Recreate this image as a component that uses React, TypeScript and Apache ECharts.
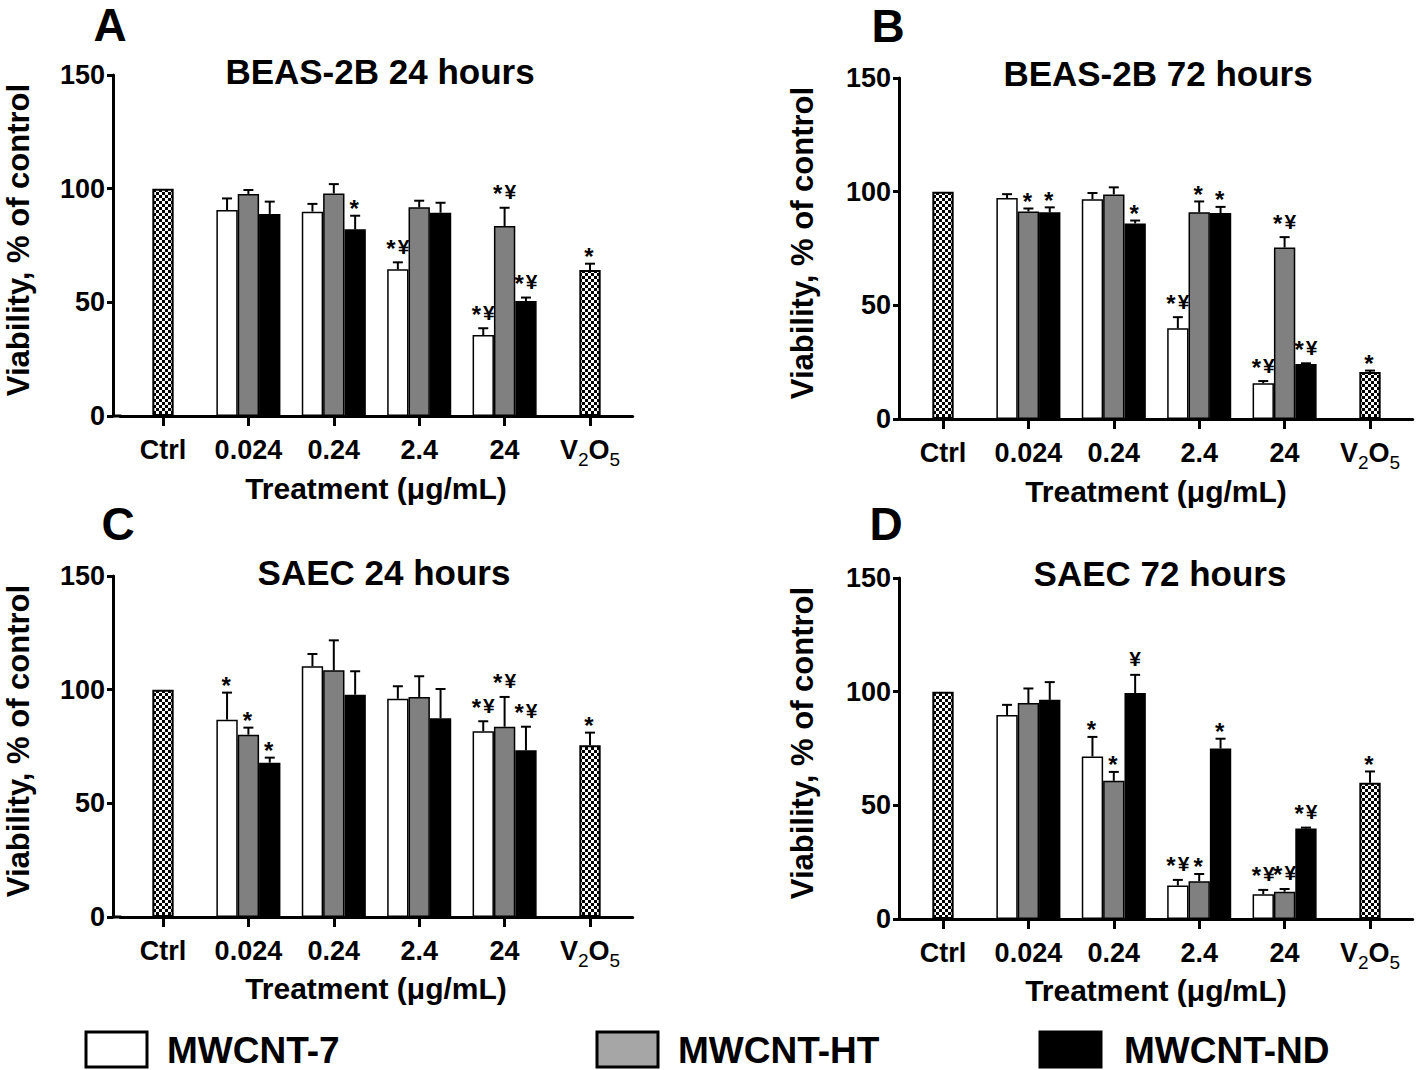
import React, { useEffect, useRef } from 'react';
import * as echarts from 'echarts';

// ---------- data ----------
const categories = ['Ctrl', '0.024', '0.24', '2.4', '24', 'V2O5'];
const seriesNames = ['MWCNT-7', 'MWCNT-HT', 'MWCNT-ND'];
const panelTitles = ['BEAS-2B 24 hours', 'BEAS-2B 72 hours', 'SAEC 24 hours', 'SAEC 72 hours'];
const panelLetters = ['A', 'B', 'C', 'D'];
const yTicks = [0, 50, 100, 150];
const yAxisName = 'Viability, % of control';
const xAxisName = 'Treatment (μg/mL)';

// Panel A — BEAS-2B 24 h (values for 0.024, 0.24, 2.4, 24)
const aRef = [100, 64.2];
const aRefErr = [0, 2.8];
const aRefMark = ['', '*'];
const aMW7 = [90.6, 89.9, 64.5, 35.6];
const aMW7Err = [5.1, 3.4, 3.1, 3.0];
const aMW7Mark = ['', '', '*¥', '*¥'];
const aHT = [97.7, 97.9, 91.8, 83.6];
const aHTErr = [1.7, 4.1, 2.9, 8.0];
const aHTMark = ['', '', '', '*¥'];
const aND = [88.9, 82.1, 89.4, 50.6];
const aNDErr = [5.4, 6.0, 4.4, 1.5];
const aNDMark = ['', '*', '', '*¥'];

// Panel B — BEAS-2B 72 h
const bRef = [100, 20.7];
const bRefErr = [0, 0.6];
const bRefMark = ['', '*'];
const bMW7 = [97.2, 96.7, 39.9, 15.7];
const bMW7Err = [1.7, 2.7, 4.9, 1.0];
const bMW7Mark = ['', '', '*¥', '*¥'];
const bHT = [91.3, 98.8, 90.9, 75.4];
const bHTErr = [1.3, 3.1, 4.8, 4.6];
const bHTMark = ['*', '', '*', '*¥'];
const bND = [90.9, 86.0, 90.6, 24.2];
const bNDErr = [2.2, 1.3, 2.7, 0.3];
const bNDMark = ['*', '*', '*', '*¥'];

// Panel C — SAEC 24 h
const cRef = [100, 75.5];
const cRefErr = [0, 5.6];
const cRefMark = ['', '*'];
const cMW7 = [86.8, 110.3, 96.0, 81.7];
const cMW7Err = [11.9, 5.4, 5.5, 4.4];
const cMW7Mark = ['*', '', '', '*¥'];
const cHT = [80.2, 108.5, 96.8, 83.7];
const cHTErr = [3.1, 13.2, 9.1, 13.1];
const cHTMark = ['*', '', '', '*¥'];
const cND = [67.9, 97.8, 87.4, 73.3];
const cNDErr = [2.2, 10.3, 12.9, 10.4];
const cNDMark = ['*', '', '', '*¥'];

// Panel D — SAEC 72 h
const dRef = [100, 59.9];
const dRefErr = [0, 5.0];
const dRefMark = ['', '*'];
const dMW7 = [89.7, 71.5, 14.7, 10.9];
const dMW7Err = [4.5, 8.6, 2.5, 1.9];
const dMW7Mark = ['', '*', '*¥', '*¥'];
const dHT = [95.0, 60.8, 16.6, 12.0];
const dHTErr = [6.4, 3.9, 3.2, 1.2];
const dHTMark = ['', '*', '*', '*¥'];
const dND = [96.4, 99.4, 75.0, 39.8];
const dNDErr = [7.8, 8.0, 4.3, 0.4];
const dNDMark = ['', '¥', '*', '*¥'];

const panels = [
  { ref: aRef, refErr: aRefErr, refMark: aRefMark, groups: [[aMW7, aMW7Err, aMW7Mark], [aHT, aHTErr, aHTMark], [aND, aNDErr, aNDMark]] },
  { ref: bRef, refErr: bRefErr, refMark: bRefMark, groups: [[bMW7, bMW7Err, bMW7Mark], [bHT, bHTErr, bHTMark], [bND, bNDErr, bNDMark]] },
  { ref: cRef, refErr: cRefErr, refMark: cRefMark, groups: [[cMW7, cMW7Err, cMW7Mark], [cHT, cHTErr, cHTMark], [cND, cNDErr, cNDMark]] },
  { ref: dRef, refErr: dRefErr, refMark: dRefMark, groups: [[dMW7, dMW7Err, dMW7Mark], [dHT, dHTErr, dHTMark], [dND, dNDErr, dNDMark]] },
];

// ---------- layout / style ----------
const FONT = '"Liberation Sans", Arial, Helvetica, sans-serif';
const CAT_W = 512.4;
const LAYOUT = [
  { axisX: 113, catLeft: 120.3, top: 75, bottom: 416, title: [380, 71], letter: [110, 25], yName: [18, 240], xName: [376, 488] },
  { axisX: 899, catLeft: 900.3, top: 78, bottom: 419, title: [1158, 73], letter: [888, 26], yName: [802, 243], xName: [1156, 491] },
  { axisX: 113, catLeft: 120.3, top: 576, bottom: 917, title: [384, 572], letter: [118, 524], yName: [18, 741], xName: [376, 988] },
  { axisX: 899, catLeft: 900.3, top: 578, bottom: 919, title: [1160, 573], letter: [886, 524], yName: [802, 743], xName: [1156, 990] },
];
const BAR_FILLS = ['#ffffff', '#808080', '#000000'];
const LEGEND_FILLS = ['#ffffff', '#a6a6a6', '#000000'];
const LEGEND_POS = [
  { box: 86, text: 167 },
  { box: 597, text: 678 },
  { box: 1040, text: 1124 },
];

function makeChecker(): string {
  const c = document.createElement('canvas');
  c.width = 6;
  c.height = 6;
  const ctx = c.getContext('2d')!;
  ctx.fillStyle = '#ffffff';
  ctx.fillRect(0, 0, 6, 6);
  ctx.fillStyle = '#000000';
  ctx.fillRect(0, 0, 3, 3);
  ctx.fillRect(3, 3, 3, 3);
  return c.toDataURL();
}

function buildOption(checker: string) {
  const grid: any[] = [];
  const xAxis: any[] = [];
  const yAxis: any[] = [];
  const series: any[] = [];
  const graphic: any[] = [];

  LAYOUT.forEach((l, p) => {
    grid.push({ left: l.catLeft, top: l.top, width: CAT_W, height: l.bottom - l.top });
    xAxis.push({
      type: 'category',
      gridIndex: p,
      data: categories,
      axisLine: { show: true, lineStyle: { color: '#000', width: 3 } },
      axisTick: { show: true, alignWithLabel: true, length: 10, lineStyle: { color: '#000', width: 3 } },
      splitLine: { show: false },
      axisLabel: {
        interval: 0,
        margin: 20,
        color: '#000',
        fontFamily: FONT,
        fontWeight: 'bold',
        fontSize: 27,
        formatter: (v: string) => (v === 'V2O5' ? '{n|V}{s|2}{n|O}{s|5}' : v),
        rich: {
          n: { fontFamily: FONT, fontWeight: 'bold', fontSize: 27, color: '#000', padding: [0, 0, 6, 0] },
          s: { fontFamily: FONT, fontWeight: 'normal', fontSize: 19, color: '#000', padding: [14, 0, 0, 0] },
        },
      },
    });
    xAxis.push({ type: 'category', gridIndex: p, data: categories, show: false });
    yAxis.push({
      type: 'value',
      gridIndex: p,
      min: yTicks[0],
      max: yTicks[yTicks.length - 1],
      interval: 50,
      offset: l.catLeft - l.axisX,
      axisLine: { show: true, lineStyle: { color: '#000', width: 3 } },
      axisTick: { show: true, length: 6, lineStyle: { color: '#000', width: 3 } },
      splitLine: { show: false },
      axisLabel: { margin: 8, color: '#000', fontFamily: FONT, fontWeight: 'bold', fontSize: 27 },
    });

    const pd = panels[p];
    const n = categories.length;
    const refData: any[] = categories.map(() => '-');
    refData[0] = pd.ref[0];
    refData[n - 1] = pd.ref[1];
    series.push({
      type: 'bar',
      name: 'ref' + p,
      xAxisIndex: 2 * p,
      yAxisIndex: p,
      data: refData,
      barWidth: '25%',
      itemStyle: {
        color: { image: checker, repeat: 'repeat', imageWidth: 6, imageHeight: 6 },
        borderColor: '#000',
        borderWidth: 2,
      },
    });
    pd.groups.forEach((g, gi) => {
      const vals = g[0] as number[];
      series.push({
        type: 'bar',
        name: seriesNames[gi] + p,
        xAxisIndex: 2 * p + 1,
        yAxisIndex: p,
        data: ['-', ...vals, '-'],
        barWidth: '25%',
        barGap: '0%',
        itemStyle: { color: BAR_FILLS[gi], borderColor: '#000', borderWidth: 1.5 },
      });
    });

    const items: number[][] = [];
    const marks: string[] = [];
    items.push([0, pd.ref[0], pd.ref[0] + pd.refErr[0], 0]);
    marks.push(pd.refMark[0]);
    items.push([n - 1, pd.ref[1], pd.ref[1] + pd.refErr[1], 0]);
    marks.push(pd.refMark[1]);
    pd.groups.forEach((g, gi) => {
      const vals = g[0] as number[];
      const errs = g[1] as number[];
      const mk = g[2] as string[];
      vals.forEach((v, k) => {
        items.push([k + 1, v, v + errs[k], gi - 1]);
        marks.push(mk[k]);
      });
    });
    series.push({
      type: 'custom',
      xAxisIndex: 2 * p,
      yAxisIndex: p,
      data: items,
      clip: false,
      z: 5,
      renderItem: (params: any, api: any) => {
        const base = api.coord([api.value(0), api.value(1)]);
        const top = api.coord([api.value(0), api.value(2)]);
        const bw = api.size([1, 0])[0] * 0.25;
        const x = base[0] + api.value(3) * bw;
        const children: any[] = [];
        if (api.value(2) > api.value(1)) {
          children.push({ type: 'line', shape: { x1: x, y1: base[1], x2: x, y2: top[1] }, style: { stroke: '#000', lineWidth: 2 } });
          children.push({ type: 'line', shape: { x1: x - 5, y1: top[1], x2: x + 5, y2: top[1] }, style: { stroke: '#000', lineWidth: 2 } });
        }
        const m = marks[params.dataIndex];
        if (m) {
          const hasYen = m.indexOf('¥') >= 0;
          const dy = hasYen ? 16 : 9;
          const txt = m.split('').map((ch) => (ch === '*' ? '{a|*}' : '{y|' + ch + '}')).join('');
          children.push({
            type: 'text',
            x,
            y: top[1] - dy,
            style: {
              text: txt,
              textAlign: 'center',
              textVerticalAlign: 'middle',
              align: 'center',
              verticalAlign: 'middle',
              font: `bold 21px ${FONT}`,
              fill: '#000',
              rich: {
                a: { font: `bold 24px ${FONT}`, fill: '#000', padding: [4, 2, 0, 0] },
                y: { font: `bold 21px ${FONT}`, fill: '#000' },
              },
            },
          });
        }
        return { type: 'group', children };
      },
    });

    graphic.push({
      type: 'text', x: l.title[0], y: l.title[1],
      style: { text: panelTitles[p], font: `bold 35px ${FONT}`, fill: '#000', textAlign: 'center', textVerticalAlign: 'middle', align: 'center', verticalAlign: 'middle' },
    });
    graphic.push({
      type: 'text', x: l.letter[0], y: l.letter[1],
      style: { text: panelLetters[p], font: `bold 46px ${FONT}`, fill: '#000', textAlign: 'center', textVerticalAlign: 'middle', align: 'center', verticalAlign: 'middle' },
    });
    graphic.push({
      type: 'text', x: l.yName[0], y: l.yName[1], rotation: Math.PI / 2,
      style: { text: yAxisName, font: `bold 31px ${FONT}`, fill: '#000', textAlign: 'center', textVerticalAlign: 'middle', align: 'center', verticalAlign: 'middle' },
    });
    graphic.push({
      type: 'text', x: l.xName[0], y: l.xName[1],
      style: { text: xAxisName, font: `bold 30px ${FONT}`, fill: '#000', textAlign: 'center', textVerticalAlign: 'middle', align: 'center', verticalAlign: 'middle' },
    });
    if (l.catLeft - l.axisX > 1) {
      graphic.push({
        type: 'line',
        shape: { x1: l.axisX, y1: l.bottom, x2: l.catLeft + 1, y2: l.bottom },
        style: { stroke: '#000', lineWidth: 3 },
      });
    }
  });

  seriesNames.forEach((name, i) => {
    const lp = LEGEND_POS[i];
    graphic.push({
      type: 'rect',
      shape: { x: lp.box, y: 1032, width: 61, height: 35 },
      style: { fill: LEGEND_FILLS[i], stroke: '#000', lineWidth: 3 },
    });
    graphic.push({
      type: 'text', x: lp.text, y: 1050,
      style: { text: name, font: `bold 37px ${FONT}`, fill: '#000', textAlign: 'left', textVerticalAlign: 'middle', align: 'left', verticalAlign: 'middle' },
    });
  });

  return {
    animation: false,
    backgroundColor: '#ffffff',
    grid,
    xAxis,
    yAxis,
    series,
    graphic,
  };
}

export default function App() {
  const ref = useRef<HTMLDivElement>(null);
  useEffect(() => {
    document.body.style.margin = '0';
    if (!ref.current) return;
    const chart = echarts.init(ref.current, undefined, { renderer: 'svg' });
    chart.setOption(buildOption(makeChecker()));
    return () => chart.dispose();
  }, []);
  return <div ref={ref} style={{ width: 1418, height: 1070, position: 'absolute', left: 0, top: 0 }} />;
}
